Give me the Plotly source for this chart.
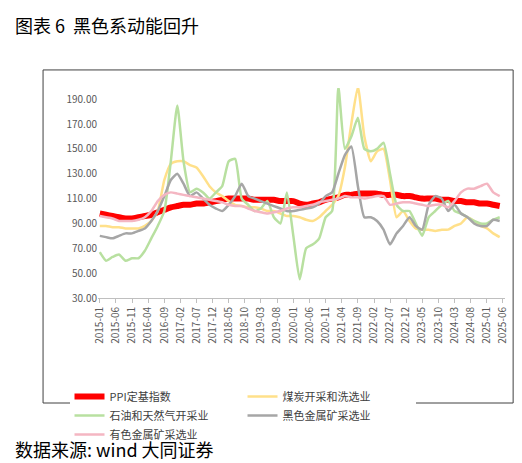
import plotly.graph_objects as go
import pandas as pd

dates = [f"{y}-{m:02d}-01" for y in range(2015, 2026) for m in (1, 3, 5, 7, 9, 11)][:63]

ppi = [98,97,96,95,94,94, 95,96,97,99,101,103, 104,105,105,106,106,107, 108,109,110,110,110,110,
       109,109,109,109,108,108, 108,106,105,106,107,109, 110,111,113,113,114,114, 114,114,113,113,113,112,
       112,111,110,110,110,109, 109,108,108,107,107,106, 106,105,104]
coal = [88,88,87,87,86,86, 86,88,92,100,125,138, 140,140,137,135,128,120, 115,112,108,105,104,103,
        103,102,100,100,98,96, 96,95,93,92,95,100, 105,112,135,170,200,160, 140,148,150,125,95,100,
        92,86,85,85,84,85, 85,88,90,95,92,88, 86,82,79]
oil = [67,60,63,65,60,62, 62,68,78,88,100,140, 185,140,115,118,115,110, 115,120,140,142,110,105,
       100,102,108,95,90,115, 80,45,70,73,78,95, 100,200,150,160,175,150, 148,150,155,130,105,100,
       100,90,80,95,100,105, 108,100,98,95,92,90, 90,93,95]
ferrous = [80,79,78,80,82,82, 84,86,92,100,112,125, 130,122,112,115,110,105, 102,100,105,112,122,112,
           110,108,106,104,102,100, 100,101,102,103,106,112, 115,130,145,152,120,95, 95,92,85,73,82,88,
           95,88,85,105,112,110, 100,105,98,95,90,88, 88,93,92]
nonferrous = [96,95,94,92,92,92, 93,95,100,108,113,115, 114,113,112,111,110,109, 108,107,105,104,104,102,
              100,99,98,99,100,102, 103,103,104,105,107,108, 109,110,112,111,111,110, 111,112,112,105,106,107,
              107,106,105,104,105,105, 103,108,115,118,118,120, 122,115,112]

names = ["PPI定基指数", "煤炭开采和洗选业", "石油和天然气开采业", "黑色金属矿采选业", "有色金属矿采选业"]
colors = ["#ff0000", "#ffe08a", "#b8e0a0", "#a6a6a6", "#f4b6c2"]
widths = [6, 2.5, 2.5, 2.5, 2.5]
series = [ppi, coal, oil, ferrous, nonferrous]

tick_dates = pd.date_range("2015-01-01", "2025-06-01", freq="5MS")
tickvals = [d.strftime("%Y-%m-%d") for d in tick_dates]
ticktext = [d.strftime("%Y-%m") for d in tick_dates]
yticks = list(range(30, 200, 20))

fig = go.Figure()
for n, c, w, s in zip(names, colors, widths, series):
    fig.add_trace(go.Scatter(x=dates, y=s, name=n, mode="lines",
                             line=dict(color=c, width=w, shape="spline", smoothing=0.5)))

fig.update_layout(
    width=522, height=463, paper_bgcolor="white", plot_bgcolor="white",
    margin=dict(l=90, r=25, t=80, b=173),
    font=dict(family="Noto Sans CJK SC", size=11, color="#595959"),
    legend=dict(orientation="h", x=-0.07, y=-0.4, xanchor="left", yanchor="top",
                entrywidth=128, font=dict(size=11, color="#404040"), tracegroupgap=0),
    xaxis=dict(range=["2014-12-15", "2025-06-20"], tickvals=tickvals, ticktext=ticktext,
               tickangle=-90, showgrid=False, showline=True, linecolor="#bfbfbf",
               ticks="outside", tickcolor="#bfbfbf", ticklen=4, tickfont=dict(size=10)),
    yaxis=dict(range=[30, 199], tickvals=yticks, ticktext=[f"{v:.2f}" for v in yticks],
               showgrid=False, showline=False, zeroline=False, tickfont=dict(size=10)),
    showlegend=True,
)
fig.add_shape(type="rect", xref="paper", yref="paper", x0=-0.135, x1=1.02, y0=-0.5, y1=1.086,
              line=dict(color="#404040", width=1))
fig.add_annotation(text="图表 6  黑色系动能回升", xref="paper", yref="paper", x=-0.21, y=1.3,
                   xanchor="left", yanchor="middle", showarrow=False,
                   font=dict(size=18, color="#000000", family="Noto Sans CJK SC"))
fig.add_annotation(text="数据来源: wind 大同证券", xref="paper", yref="paper", x=-0.21, y=-0.72,
                   xanchor="left", yanchor="middle", showarrow=False,
                   font=dict(size=18, color="#000000", family="Noto Sans CJK SC"))
fig.write_html("out.html")
